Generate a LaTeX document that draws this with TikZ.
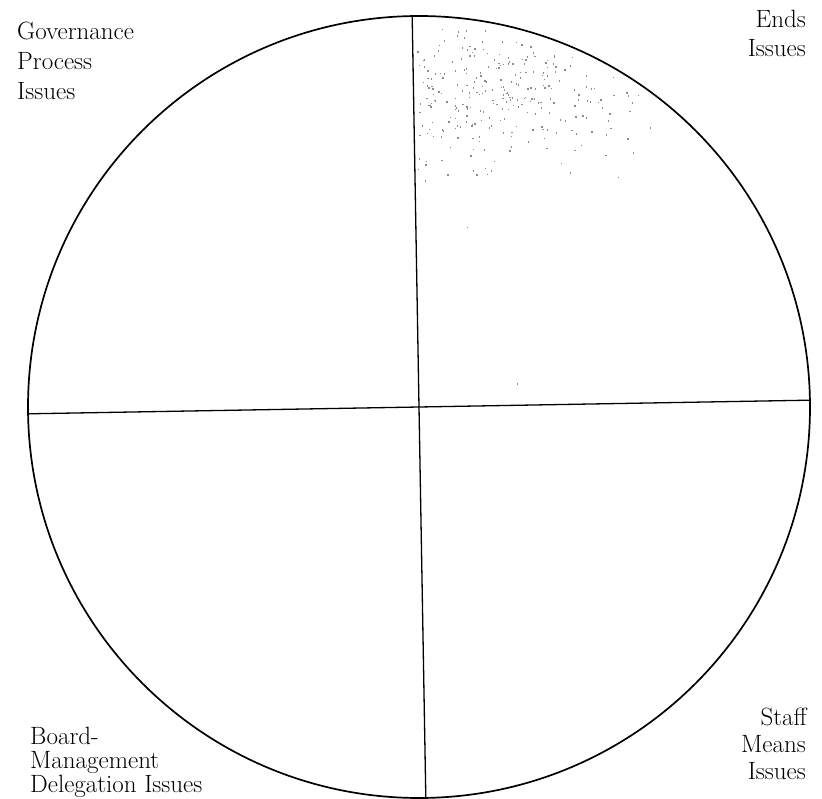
\documentclass[tikz,border=0pt]{standalone}
\usepackage{fontspec}
\begin{document}
\begin{tikzpicture}[x=1pt,y=1pt,
  lbl/.style={inner sep=0pt,font=\fontsize{25}{30}\selectfont},
  rim/.style={draw=black,line width=1.7pt,circle,minimum size=782pt,inner sep=0pt,outer sep=0pt},
  axis/.style={draw=black,line width=1.3pt},
  speck/.style={fill=black!45}]
\useasboundingbox (0,0) rectangle (822,-799);
\node[rim] (c) at (419,-407) {};
% cross (slightly rotated, as in the scan)
\draw[axis] (c.91) -- (c.271);
\draw[axis] (c.181) -- (c.1);
% stipple
\pgfmathsetseed{11}
\foreach \i in {1,...,1400}{
  \pgfmathsetmacro{\px}{417+rnd*250}
  \pgfmathsetmacro{\py}{30+rnd*160}
  \pgfmathsetmacro{\dx}{(\px-470)/150}
  \pgfmathsetmacro{\dy}{(\py-90)/60}
  \pgfmathsetmacro{\ex}{(\px-419)/100}
  \pgfmathsetmacro{\ey}{(\py-407)/100}
  \pgfmathsetmacro{\ins}{(\ex*\ex+\ey*\ey<14.6)?1:0}
  \pgfmathsetmacro{\keep}{(rnd<0.5*exp(-\dx*\dx-\dy*\dy))*\ins}
  \ifdim\keep pt>0.5pt \fill[speck] (\px,-\py) rectangle ++(1.3,1.6);\fi
}
\fill[speck] (467,-228) rectangle ++(1.4,1.4);
\fill[speck] (517,-385) rectangle ++(1.4,1.6);
% labels
\node[lbl,anchor=base west] (g1) at (17,-40) {Governance};
\node[lbl,anchor=base west] (g2) at (17,-70) {Process};
\node[lbl,anchor=base west] (g3) at (17,-100) {Issues};
\node[lbl,anchor=base east] (e1) at (806,-28) {Ends};
\node[lbl,anchor=base east] (e2) at (806,-57) {Issues};
\node[lbl,anchor=base west] (b1) at (30,-744) {Board-};
\node[lbl,anchor=base west] (b2) at (30,-768) {Management};
\node[lbl,anchor=base west] (b3) at (30,-792) {Delegation Issues};
\node[lbl,anchor=base east] (s1) at (807,-725) {Staff};
\node[lbl,anchor=base east] (s2) at (806,-752) {Means};
\node[lbl,anchor=base east] (s3) at (806,-779) {Issues};
\end{tikzpicture}
\end{document}
